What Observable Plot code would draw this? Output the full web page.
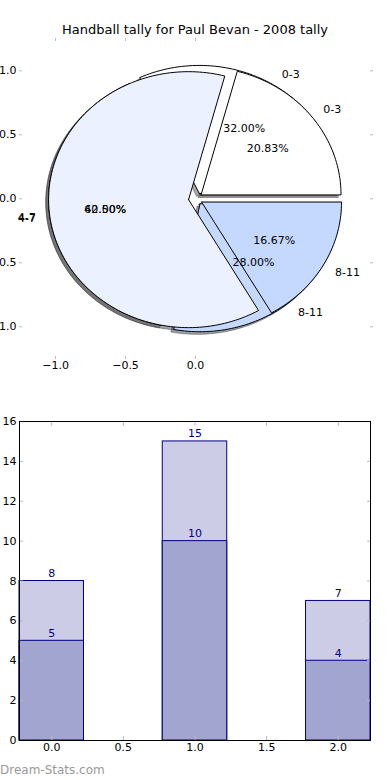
<!DOCTYPE html>
<html><head><meta charset="utf-8">
<script src="https://cdn.jsdelivr.net/npm/d3@7"></script>
<script src="https://cdn.jsdelivr.net/npm/@observablehq/plot@0.6"></script>
<style>
html,body{margin:0;padding:0;background:#fff;}
#chart{position:relative;width:390px;height:780px;overflow:hidden;font-family:"DejaVu Sans",sans-serif;}
#title{position:absolute;left:0;top:22px;width:390px;text-align:center;font-size:13px;line-height:15px;color:#000;z-index:2;}
#pie{position:absolute;left:0;top:0;}
#bars{position:absolute;left:0;top:400px;}
#credit{position:absolute;left:0;top:763px;font-size:12px;line-height:14px;color:#999;z-index:2;}
</style></head>
<body>
<div id="chart"><div id="pie"></div><div id="bars"></div><div id="title"></div><div id="credit">Dream-Stats.com</div></div>
<script>
const title = "Handball tally for Paul Bevan - 2008 tally";
const categories = ["0-3", "4-7", "8-11"];
const tallyBack = [8, 10, 7];     // 32.00%, 40.00%, 28.00%
const tallyFront = [5, 15, 4];    // 20.83%, 62.50%, 16.67%
const wedgeColors = ["#ffffff", "#ebf1fe", "#c5d8fd"];
const barPositions = [0, 1, 2];
const barTotals = [8, 15, 7];
const barBase = [5, 10, 4];
const pieTicksX = [-1, -0.5, 0];
const pieTicksY = [-1, -0.5, 0, 0.5, 1];
const barTicksX = [0, 0.5, 1, 1.5, 2];
const barTicksY = [0, 2, 4, 6, 8, 10, 12, 14, 16];

document.getElementById("title").textContent = title;

const explode = 0.05;
const shade = c => { const r = d3.rgb(c); return d3.rgb(r.r * 0.3, r.g * 0.3, r.b * 0.3).formatHex(); };

function wedges(values, pieId) {
  const total = d3.sum(values);
  let a = 0;
  return values.map((v, i) => {
    const a1 = a, a2 = a + v / total * 2 * Math.PI; a = a2;
    const m = (a1 + a2) / 2;
    const cx = explode * Math.cos(m), cy = explode * Math.sin(m);
    const n = Math.max(4, Math.ceil((a2 - a1) / (Math.PI / 120)));
    const pts = [[cx, cy]];
    for (let k = 0; k <= n; k++) { const t = a1 + (a2 - a1) * k / n; pts.push([cx + Math.cos(t), cy + Math.sin(t)]); }
    pts.push([cx, cy]);
    return {id: pieId + "-" + i, cat: categories[i], color: wedgeColors[i], pct: v / total * 100, m, cx, cy, pts};
  });
}
const back = wedges(tallyBack, "b");
const front = wedges(tallyFront, "f");
const rows = ws => ws.flatMap(w => w.pts.map(([x, y]) => ({id: w.id, x, y, color: w.color})));
const shadowRows = [...back, ...front].flatMap(w => w.pts.map(([x, y]) => ({id: w.id, x: x - 0.02, y: y - 0.02, color: shade(w.color)})));
const labelRows = [...back, ...front].map(w => ({x: w.cx + 1.1 * Math.cos(w.m), y: w.cy + 1.1 * Math.sin(w.m), text: w.cat}));
const pctRows = [...back, ...front].map(w => ({x: w.cx + 0.6 * Math.cos(w.m), y: w.cy + 0.6 * Math.sin(w.m), text: w.pct.toFixed(2) + "%"}));

const fmt1 = d3.format(".1f");
const pie = Plot.plot({
  width: 390, height: 390,
  marginLeft: 22, marginRight: 21, marginTop: 40, marginBottom: 34,
  style: {background: "transparent", fontFamily: "DejaVu Sans", fontSize: "11px", color: "black"},
  x: {domain: [-1.236, 1.243], label: null},
  y: {domain: [-1.232, 1.237], label: null},
  color: {type: "identity"},
  marks: [
    Plot.line(shadowRows, {x: "x", y: "y", z: "id", fill: "color", stroke: "color", fillOpacity: 0.5, strokeOpacity: 0.5, strokeWidth: 1}),
    Plot.line(rows(back), {x: "x", y: "y", z: "id", fill: "color", stroke: "black", strokeWidth: 1}),
    Plot.line(rows(front), {x: "x", y: "y", z: "id", fill: "color", stroke: "black", strokeWidth: 1}),
    Plot.text(labelRows.filter(d => d.x > 0), {x: "x", y: "y", text: "text", textAnchor: "start", fill: "black", fontSize: 11}),
    Plot.text(labelRows.filter(d => d.x <= 0), {x: "x", y: "y", text: "text", textAnchor: "end", fill: "black", fontSize: 11}),
    Plot.text(pctRows, {x: "x", y: "y", text: "text", fill: "black", fontSize: 11}),
    Plot.axisX(pieTicksX, {anchor: "bottom", tickSize: 3, tickPadding: 2, stroke: "#bbb", color: "black", tickFormat: fmt1, label: null}),
    Plot.axisX(pieTicksX, {anchor: "top", tickSize: 3, stroke: "#bbb", tickFormat: () => "", label: null}),
    Plot.axisY(pieTicksY, {anchor: "left", tickSize: 3, tickPadding: 3, stroke: "#bbb", color: "black", tickFormat: fmt1, label: null}),
    Plot.axisY(pieTicksY, {anchor: "right", tickSize: 3, stroke: "#bbb", tickFormat: () => "", label: null})
  ]
});
document.getElementById("pie").append(pie);

const barRows = barPositions.map((x, i) => ({x, total: barTotals[i], base: barBase[i]}));
const halfW = 0.225;
const bars = Plot.plot({
  width: 390, height: 370,
  marginLeft: 19, marginRight: 20, marginTop: 21, marginBottom: 30,
  style: {background: "transparent", fontFamily: "DejaVu Sans", fontSize: "11px", color: "black"},
  x: {domain: [-0.225, 2.225], label: null},
  y: {domain: [0, 16], label: null},
  marks: [
    Plot.rectY(barRows, {x1: d => d.x - halfW, x2: d => d.x + halfW, y: "total", fill: "#ccccE6", stroke: "#000080", strokeWidth: 1}),
    Plot.rectY(barRows, {x1: d => d.x - halfW, x2: d => d.x + halfW, y: "base", fill: "#a3a5d1", stroke: "#000080", strokeWidth: 1}),
    Plot.text(barRows, {x: "x", y: "total", text: d => String(d.total), lineAnchor: "bottom", dy: -4, fill: "#000080", fontSize: 11}),
    Plot.text(barRows, {x: "x", y: "base", text: d => String(d.base), lineAnchor: "bottom", dy: -4, fill: "#000080", fontSize: 11}),
    Plot.axisX(barTicksX, {anchor: "bottom", tickSize: -4, stroke: "#bbb", tickFormat: () => "", label: null}),
    Plot.axisX(barTicksX, {anchor: "top", tickSize: -4, stroke: "#bbb", tickFormat: () => "", label: null}),
    Plot.axisY(barTicksY, {anchor: "left", tickSize: -4, stroke: "#bbb", tickFormat: () => "", label: null}),
    Plot.axisY(barTicksY, {anchor: "right", tickSize: -4, stroke: "#bbb", tickFormat: () => "", label: null}),
    Plot.axisX(barTicksX, {anchor: "bottom", tickSize: 0, tickPadding: 3, color: "black", tickFormat: fmt1, label: null}),
    Plot.axisY(barTicksY, {anchor: "left", tickSize: 0, tickPadding: 3, color: "black", tickFormat: d3.format("d"), label: null}),
    Plot.frame({stroke: "black", strokeWidth: 1})
  ]
});
document.getElementById("bars").append(bars);
</script>
</body></html>
